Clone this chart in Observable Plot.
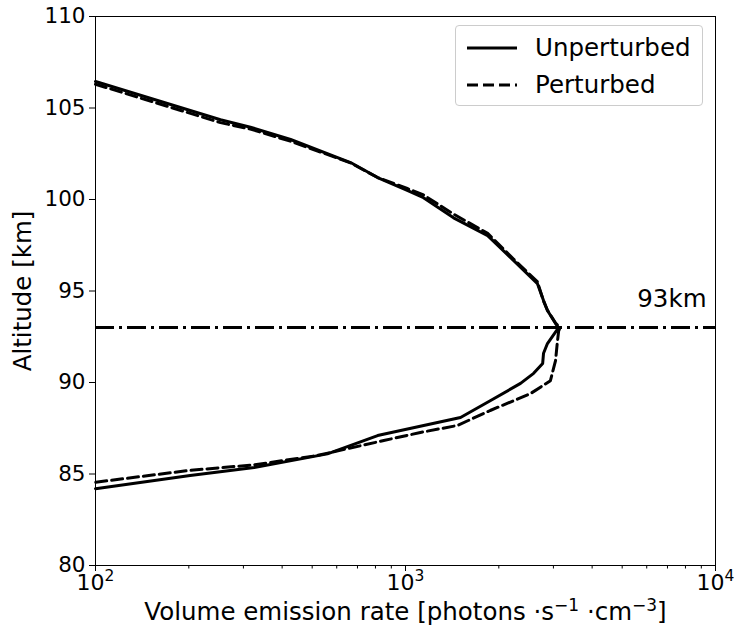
<!DOCTYPE html>
<html>
<head>
<meta charset="utf-8">
<script src="https://cdn.jsdelivr.net/npm/d3@7"></script>
<script src="https://cdn.jsdelivr.net/npm/@observablehq/plot@0.6"></script>
<style>
  body { margin: 0; background: white; font-family: "DejaVu Sans", sans-serif; }
  #wrap { position: relative; width: 735px; height: 629px; }
  #legend { position: absolute; left: 455px; top: 25px; width: 248px; height: 81px;
    border: 1px solid #cccccc; border-radius: 4px; background: rgba(255,255,255,0.8); box-sizing: border-box; }
  .item { position: absolute; left: 11px; display: flex; align-items: center; font-size: 24.5px; line-height: 28px; }
  .item svg { margin-right: 18px; }
</style>
</head>
<body>
<div id="wrap"></div>
<script>
// Unperturbed profile (emission rate, altitude km)
const unpertRate = [100, 253, 316, 426, 665, 813, 1013, 1143, 1429, 1841, 2230, 2665, 2788, 2870, 3048, 3118, 2870, 2788, 2770, 2590, 2350, 1876, 1505, 813, 560, 325, 202, 100];
const unpertAlt  = [106.45, 104.36, 103.95, 103.28, 102.02, 101.2, 100.5, 100.1, 99.0, 98.03, 96.67, 95.4, 94.48, 93.93, 93.22, 93.0, 92.13, 91.6, 91.04, 90.5, 89.95, 89.0, 88.09, 87.1, 86.1, 85.35, 84.92, 84.2];
// Perturbed profile
const pertRate = [100, 253, 316, 426, 665, 813, 1013, 1143, 1429, 1841, 2230, 2665, 2788, 2870, 3048, 3150, 3118, 3086, 3048, 2934, 2534, 1876, 1469, 1117, 851, 519, 325, 202, 100];
const pertAlt  = [106.3, 104.2, 103.85, 103.18, 102.0, 101.2, 100.6, 100.25, 99.2, 98.15, 96.75, 95.5, 94.45, 93.95, 93.25, 93.0, 92.8, 92.13, 91.2, 90.1, 89.4, 88.47, 87.65, 87.27, 86.83, 86.01, 85.5, 85.2, 84.55];
// Reference altitude
const refAlt = [93];
const refLabel = ["93km"];
// Ticks
const xMajor = [100, 1000, 10000];
const xMajorExp = ["2", "3", "4"];
const xMinor = [200,300,400,500,600,700,800,900,2000,3000,4000,5000,6000,7000,8000,9000];
const yTicks = [80, 85, 90, 95, 100, 105, 110];
const seriesNames = ["Unperturbed", "Perturbed"];
const xLabelParts = [["Volume emission rate [photons ·s", false], ["−1", true], [" ·cm", false], ["−3", true], ["]", false]];

const unpert = unpertRate.map((v, i) => ({x: v, y: unpertAlt[i]}));
const pert = pertRate.map((v, i) => ({x: v, y: pertAlt[i]}));

const chart = Plot.plot({
  width: 735, height: 629,
  marginLeft: 95, marginRight: 20, marginTop: 16, marginBottom: 64,
  style: {fontFamily: "DejaVu Sans", fontSize: "20px", color: "black", background: "white"},
  x: {type: "log", domain: [100, 10000]},
  y: {domain: [80, 110]},
  marks: [
    Plot.axisX(xMinor, {tickSize: 3.5, tickFormat: () => "", label: null, strokeWidth: 1}),
    Plot.axisX(xMajor, {tickSize: 6, tickPadding: 3, tickFormat: d => "10E" + xMajorExp[xMajor.indexOf(d)],
      fontSize: 22, label: "XLABEL", labelAnchor: "center", labelArrow: "none", labelOffset: 54}),
    Plot.axisY(yTicks, {tickSize: 6, tickPadding: 4, fontSize: 21.5,
      label: "Altitude [km]", labelAnchor: "center", labelArrow: "none", labelOffset: 82}),
    Plot.ruleY(refAlt, {stroke: "black", strokeWidth: 3, strokeDasharray: "19,5,3,5"}),
    Plot.text(refLabel, {x: () => 10000, y: () => refAlt[0], text: d => d, textAnchor: "end", dx: -9, dy: -28, fontSize: 24.5}),
    Plot.line(pert, {x: "x", y: "y", stroke: "black", strokeWidth: 3, strokeDasharray: "11,5"}),
    Plot.line(unpert, {x: "x", y: "y", stroke: "black", strokeWidth: 3}),
    Plot.frame({stroke: "black", strokeWidth: 1})
  ]
});

const wrap = document.getElementById("wrap");
wrap.appendChild(chart);

// Rich text: superscripts in tick labels and x label
d3.select(chart).selectAll("text").each(function() {
  const t = d3.select(this);
  const s = this.textContent;
  if (s.startsWith("10E")) {
    const exp = s.slice(3);
    t.text(null);
    t.append("tspan").text("10");
    t.append("tspan").attr("dy", "-9").style("font-size", "15.5px").text(exp);
  } else if (s === "XLABEL") {
    t.text(null).style("font-size", "24.5px");
    xLabelParts.forEach(([p, sup], i) => {
      const ts = t.append("tspan").text(p);
      if (sup) ts.attr("dy", "-9").style("font-size", "17px");
      else if (i > 0) ts.attr("dy", "9");
    });
  } else if (s === "Altitude [km]") {
    t.style("font-size", "24.5px");
  }
});

const legend = document.createElement("div");
legend.id = "legend";
const dashes = [null, "11,5"];
seriesNames.forEach((name, i) => {
  const it = document.createElement("div");
  it.className = "item";
  it.style.top = (i === 0 ? 8 : 45) + "px";
  it.innerHTML = `<svg width="50" height="26"><line x1="0" x2="50" y1="13" y2="13" stroke="black" stroke-width="3" ${dashes[i] ? `stroke-dasharray="${dashes[i]}"` : ""}/></svg><span>${name}</span>`;
  legend.appendChild(it);
});
wrap.appendChild(legend);
</script>
</body>
</html>
